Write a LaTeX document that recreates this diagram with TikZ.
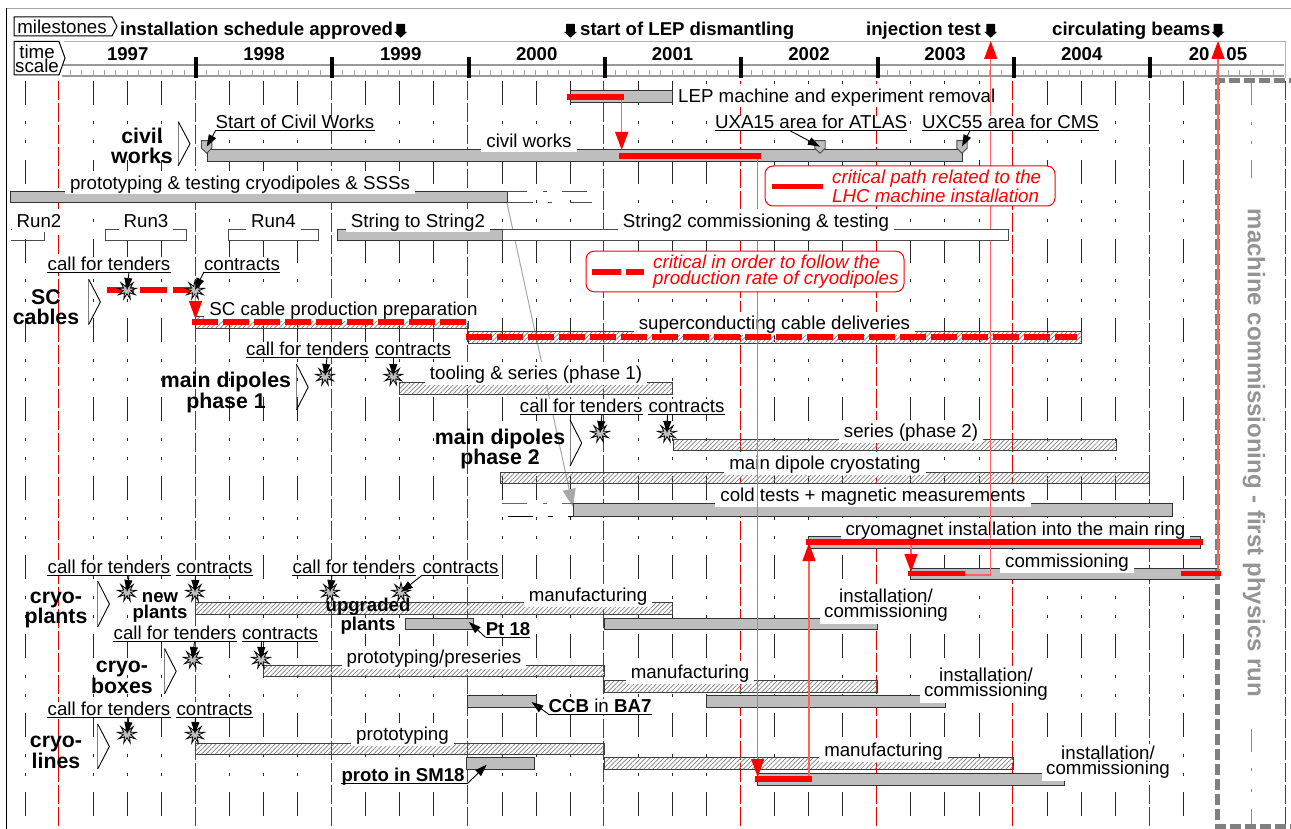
\documentclass[tikz,border=0pt]{standalone}
\usepackage{fontspec}
\setmainfont{Liberation Sans}
\usetikzlibrary{arrows.meta,patterns,patterns.meta,shapes.geometric}
\definecolor{bargray}{HTML}{BEBEBE}
\definecolor{pale}{HTML}{FF6060}
\definecolor{midgray}{HTML}{A8A8A8}
\definecolor{boxgray}{HTML}{808080}
\newcommand\tsz{\fontsize{18.7}{18.7}\selectfont}
\newcommand\bsz{\fontsize{18.6}{18.6}\selectfont\bfseries}
\newcommand\hsz{\fontsize{21.3}{19.5}\selectfont\bfseries}
\newcommand\isz{\fontsize{18.7}{13}\selectfont}
\tikzset{
  txt/.style={font=\tsz,inner sep=0pt},
  bold/.style={font=\bsz,inner sep=0pt},
  head/.style={font=\hsz,inner sep=0pt,align=center},
  lab/.style={font=\tsz,fill=white,inner xsep=5pt,inner ysep=3pt,text height=15pt,text depth=2pt},
  inst/.style={font=\isz,fill=white,inner xsep=4pt,inner ysep=2pt,align=center},
  ulab/.style={font=\tsz,fill=white,inner xsep=0pt,inner ysep=0pt,text height=13pt,text depth=1.5pt,anchor=south},
  ubold/.style={ulab,font=\bsz},
  uline/.style={draw=black,line width=0.9pt},
  gbarst/.style={draw=black!80,line width=1pt,fill=bargray,inner sep=0pt,outer sep=0pt},
  wbarst/.style={draw=black!70,line width=1pt,fill=white,inner sep=0pt,outer sep=0pt},
  hbarst/.style={draw=black!75,line width=1pt,inner sep=0pt,outer sep=0pt,pattern={Lines[angle=45,distance=3.2pt,line width=0.7pt]},pattern color=black!50},
  gridl/.style={draw=black!85,line width=0.9pt,dash pattern=on 24pt off 16.5pt on 3pt off 16pt on 3pt off 16.5pt},
  redgrid/.style={draw=red!90!black,line width=0.9pt,dash pattern=on 19pt off 3pt},
  chev/.style={draw=black,line width=0.9pt},
  lead/.style={draw=black,line width=0.9pt,-{Triangle[length=12pt,width=8pt]}},
  redlink/.style={draw=pale,line width=1.3pt,-{Triangle[length=18pt,width=13pt,color=red]}},
  redplain/.style={draw=pale,line width=1.3pt},
  thickred/.style={draw=red,line width=5.5pt},
  dashred/.style={thickred,dash pattern=on 26pt off 5pt},
  callout/.style={draw=red,fill=white,line width=1pt,rounded corners=8pt,inner sep=0pt},
  crit/.style={font=\fontsize{18.7}{16}\selectfont\itshape,text=red,inner sep=0pt,align=left,anchor=west},
  burst/.style={star,star points=9,star point ratio=2.5,draw=black,line width=0.8pt,fill=bargray,minimum size=19pt,inner sep=0pt},
  mrk/.style={draw=black!70,line width=0.9pt,fill=bargray},
  fat/.style={fill=black},
}
\newcommand\mybar[6]{\node[#1,minimum width={(#4-#3)*1pt},minimum height={(#6-#5)*1pt}] (#2) at ({(#3+#4)/2},{(#5+#6)/2}) {};}
\newcommand\chv[4]{\draw[chev,draw=black!50] (#1,#2) -- (#1,#4);\draw[chev] (#1,#2) -- ({#1+11.7},{(#2+#4)/2}) -- (#1,#4);}
\newcommand\fatdown[2]{\fill[fat] ({#1-4.3},24) -- ({#1+4.3},24) -- ({#1+4.3},32) -- ({#1+6.3},32) -- (#1,37.7) -- ({#1-6.3},32) -- ({#1-4.3},32) -- cycle; \coordinate (#2) at (#1,38);}
\newcommand\pent[3]{\filldraw[mrk] ({#1-5.2},#2) -- ({#1+5.2},#2) -- ({#1+5.2},{#2+7.5}) -- (#1,{#2+12.5}) -- ({#1-5.2},{#2+7.5}) -- cycle; \coordinate (#3) at (#1,{#2+6});}
\begin{document}
\begin{tikzpicture}[x=1pt,y=-1pt]
\useasboundingbox (0,0) rectangle (1291,829);
\fill[white] (0,0) rectangle (1291,829);
\clip (0,0) rectangle (1291,829);
% frame
\draw[black!35,line width=0.9pt] (6.3,8.3) -- (1291,8.3);
\draw[black,line width=1pt] (6.3,8.3) -- (6.3,829);
\draw[black!30,line width=1pt] (64,41.7) -- (1285.7,41.7) -- (1285.7,78);
% time scale
\draw[black!40,line width=1.2pt] (62,65) -- (1284,65);
\draw[black!40,line width=1.2pt] (62,76) -- (1284,76);
\foreach \k in {0,...,106} \draw[black!35,line width=0.9pt] ({70.5+\k*11.35},70.5) -- ({70.5+\k*11.35},76);
\foreach \x in {195.5,331.7,468.7,604.8,741,877.8,1014,1150} \fill[black] ({\x-2},57) rectangle ({\x+2},78);
\foreach \t/\x in {1997/127.7,1998/264,1999/400.7,2000/536.7,2001/672.5,2002/809,2003/945,2004/1081.7}
  \node[bold] (y\t) at (\x,54) {\t};
\node[bold] (y2005) at (1218,54) {20\hspace{17pt}05};
% grid
\foreach \k in {0,2,3,4,6,7,8,10,11,12,14,15,16,18,19,20,22,23,24,26,27,28,30,31,32,34}
  \draw[gridl] ({25+\k*34.07},81) -- ({25+\k*34.07},816);
\foreach \k in {1,5,9,13,17,21,25,29,33,37}
  \draw[redgrid] ({25+\k*34.07-0.3},81) -- ({25+\k*34.07-0.3},829);
\draw[black!45,line width=0.9pt] (1251.7,81) -- (1251.7,105) (1251.7,122) -- (1251.7,125) (1251.7,141) -- (1251.7,144) (1251.7,160) -- (1251.7,178);
\draw[black!45,line width=0.9pt] (1251.7,729) -- (1251.7,752) (1251.7,768) -- (1251.7,771) (1251.7,789) -- (1251.7,792) (1251.7,809) -- (1251.7,825);
% headers
\draw[black,line width=1pt] (14,17) -- (112,17) -- (117,26.5) -- (112,36) -- (14,36) -- cycle;
\node[txt] (mstxt) at (62,27) {milestones};
\draw[black,line width=1pt,fill=white] (14,41.5) -- (59,41.5) -- (65,58) -- (59,75) -- (14,75) -- cycle;
\node[txt,align=center,font=\fontsize{18.7}{14}\selectfont] (tstxt) at (37,59) {time\\scale};
\node[bold,anchor=west] (m1) at (120,30.5) {installation schedule approved};
\fatdown{400.7}{a1}
\fatdown{570.5}{a2}
\node[bold,anchor=west] (m2) at (580,30.5) {start of LEP dismantling};
\node[bold,anchor=west] (m3) at (866,30.5) {injection test};
\fatdown{990.7}{a3}
\node[bold,anchor=west] (m4) at (1052,30.5) {circulating beams};
\fatdown{1218}{a4}
% gray connector
\coordinate (gs) at (507,203);
\coordinate (ge) at (573,507);
\draw[draw=midgray,line width=1pt,-{Triangle[length=18pt,width=13pt,color=midgray]}] (gs) -- (ge);
% bars
\mybar{gbarst}{lep}{570}{672.7}{90.7}{102.3}
\node[lab,anchor=west] (leplab) at (673,96) {LEP machine and experiment removal};
\mybar{gbarst}{civ}{207}{962.3}{149.5}{161.5}
\node[lab] (civlab) at (529,141) {civil works};
\pent{206.7}{140.7}{mk1}
\pent{820}{140.7}{mk2}
\pent{962}{140.7}{mk3}
\mybar{gbarst}{proto}{10.5}{507}{192}{203}
\draw[black!70,line width=1pt] (507,192) -- (527,192) (543,192) -- (547,192) (562,192) -- (587,192);
\draw[black!70,line width=1pt] (507,203) -- (533,203) (548,203) -- (552,203) (570,203) -- (592,203);
\node[lab] (protolab) at (240,183) {prototyping \& testing cryodipoles \& SSSs};
% runs
\draw[black!70,line width=1pt] (11,230) -- (44.5,230) -- (44.5,241) -- (11,241);
\node[lab] (r2) at (39,221) {Run2};
\mybar{wbarst}{r3b}{105.5}{186}{230}{241}
\node[lab] (r3) at (146,221) {Run3};
\mybar{wbarst}{r4b}{228.5}{318}{230}{241}
\node[lab] (r4) at (273.5,221) {Run4};
\mybar{gbarst}{stb}{337.5}{502}{230}{241}
\node[lab] (st) at (418,221) {String to String2};
% SC
\mybar{hbarst}{scb}{195.3}{468}{316.5}{328}
\node[lab] (sclab) at (343.5,309) {SC cable production preparation};
\mybar{hbarst}{scd}{468}{1081.7}{331}{343}
\node[lab] (scdlab) at (774.5,323) {superconducting cable deliveries};
% dipoles
\mybar{hbarst}{d1}{399.5}{672.7}{382.5}{394}
\node[lab] (d1lab) at (536,373) {tooling \& series (phase 1)};
\mybar{hbarst}{d2}{673.3}{1116.7}{439.5}{450.5}
\node[lab] (d2lab) at (911,431) {series (phase 2)};
\mybar{hbarst}{cry}{500.5}{1149.5}{472}{483.3}
\node[lab] (crylab) at (825,463) {main dipole cryostating};
\mybar{gbarst}{cold}{573}{1172.7}{503.5}{516}
\draw[black!60,line width=1pt] (501.7,503.5) -- (527,503.5) (543,503.5) -- (547,503.5) (562,503.5) -- (573,503.5);
\draw[black,line width=1pt] (507.7,516) -- (533,516) (548,516) -- (553,516) (568,516) -- (573,516);
\node[lab] (coldlab) at (873,495) {cold tests + magnetic measurements};
\mybar{gbarst}{mag}{808}{1200}{536}{548}
\node[lab] (maglab) at (1015.5,529) {cryomagnet installation into the main ring};
\mybar{gbarst}{com}{910}{1217.7}{568}{579.7}
\node[lab] (comlab) at (1067,561) {commissioning};
% plants
\mybar{hbarst}{pm}{195.3}{672.7}{602.5}{614}
\node[lab] (pmlab) at (588,595) {manufacturing};
\mybar{gbarst}{pu}{405.7}{473.7}{618}{629.7}
\mybar{gbarst}{pi}{604.3}{877}{618}{629.7}
\node[inst] (pilab) at (886,605.5) {installation/\\commissioning};
% boxes
\mybar{hbarst}{bp}{263.7}{604.5}{665}{676.5}
\node[lab] (bplab) at (434,657) {prototyping/preseries};
\mybar{hbarst}{bm}{604.5}{877}{680.5}{692}
\node[lab] (bmlab) at (690,672) {manufacturing};
\mybar{gbarst}{bi}{706.7}{945.7}{695.5}{707}
\node[inst] (bilab) at (986,684.5) {installation/\\commissioning};
\mybar{gbarst}{ccb}{467.7}{536.7}{695.5}{707}
% lines
\mybar{hbarst}{lp}{195.3}{604.5}{743}{754}
\node[lab] (lplab) at (402.5,734) {prototyping};
\mybar{hbarst}{lm}{604.5}{1013.5}{757.5}{769}
\node[lab] (lmlab) at (883.5,750) {manufacturing};
\mybar{gbarst}{li}{757.7}{1064.7}{773}{785}
\node[inst] (lilab) at (1108,762.5) {installation/\\commissioning};
\mybar{gbarst}{lproto}{466}{534.7}{757.5}{769}
% commissioning box
\draw[boxgray,line width=5pt,dash pattern=on 11pt off 4pt] (1300,81) -- (1217.7,81) -- (1217.7,826) -- (1300,826);
\node[font=\fontsize{24}{24}\selectfont\bfseries,text=black!42,rotate=-90,inner sep=0pt] (comm) at (1254,453) {machine commissioning - first physics run};
% red links
\coordinate (r1a) at (621.7,100);
\coordinate (r1b) at (621.7,150);
\draw[redlink] (r1a) -- (r1b);
\coordinate (r2a) at (757.7,159);
\coordinate (r2b) at (757.7,777);
\draw[redlink] (r2a) -- (r2b);
\coordinate (r3a) at (809,776);
\coordinate (r3b) at (809,543);
\draw[redlink] (r3a) -- (r3b);
\coordinate (r4a) at (911,545);
\coordinate (r4b) at (911,572);
\draw[redlink] (r4a) -- (r4b);
\coordinate (r5a) at (965,575);
\coordinate (r5c) at (990.7,575);
\coordinate (r5b) at (990.7,41);
\draw[redlink] (r5a) -- (r5c) -- (r5b);
\coordinate (r6a) at (1218,573);
\coordinate (r6b) at (1218,41);
\draw[redlink] (r6a) -- (r6b);
\coordinate (tr3a) at (107,290);
\coordinate (tr3b) at (195,290);
\draw[thickred,dash pattern=on 27pt off 6pt] (tr3a) -- (tr3b);
\coordinate (r7a) at (195.5,293);
\coordinate (r7b) at (195.5,319);
% items on top of the red links
\mybar{wbarst}{st2}{502}{1008.3}{230}{241}
\node[lab] (st2lab) at (756,221) {String2 commissioning \& testing};
\node[ulab] (l1) at (295,130.7) {Start of Civil Works};
\draw[uline] (l1.south west) -- (l1.south east);
\node[ulab] (l2) at (811,130.7) {UXA15 area for ATLAS};
\draw[uline] (l2.south west) -- (l2.south east);
\node[ulab] (l3) at (1010.5,130.7) {UXC55 area for CMS};
\draw[uline] (l3.south west) -- (l3.south east);
\draw[lead] (l1.south west) -- (mk1);
\draw[lead] (790,130.7) -- (mk2);
\draw[lead] (970,130.7) -- (mk3);
% callouts
\node[callout,minimum width=290pt,minimum height=40pt] (co1) at (910,186) {};
\node[crit] (co1t) at (832,186.5) {critical path related to the\\LHC machine installation};
\node[callout,minimum width=318pt,minimum height=40.5pt] (co2) at (745,271.5) {};
\node[crit] (co2t) at (653,272) {critical in order to follow the\\production rate of cryodipoles};
\coordinate (lg1a) at (772,186.3);
\coordinate (lg1b) at (823,186.3);
\draw[thickred] (lg1a) -- (lg1b);
\coordinate (lg2a) at (592,272);
\coordinate (lg2b) at (644,272);
\draw[thickred,dash pattern=on 29pt off 5pt on 18pt off 5pt] (lg2a) -- (lg2b);
% section titles
\chv{178.3}{121.7}{0}{165.7}
\node[head] (h1) at (142,146) {civil\\works};
\chv{88.7}{279.3}{0}{324.5}
\node[head] (h2) at (46,307) {SC\\cables};
\chv{296.5}{364.3}{0}{410}
\node[head] (h3) at (226,392.5) {main dipoles\\phase 1};
\chv{570}{420}{0}{466}
\node[head] (h4) at (500,449) {main dipoles\\phase 2};
\chv{97.7}{581}{0}{627}
\node[head] (h5) at (56,610) {cryo-\\plants};
\chv{164.5}{648.5}{0}{694}
\node[head] (h6) at (122,677) {cryo-\\boxes};
\chv{97.7}{724}{0}{769}
\node[head] (h7) at (56,752) {cryo-\\lines};
\node[font=\fontsize{18.6}{16}\selectfont\bfseries,inner sep=0pt,align=center] (np) at (160,607.5) {new\\plants};
\node[font=\fontsize{18.6}{16}\selectfont\bfseries,inner sep=0pt,align=center] (up) at (368,616) {upgraded\\plants};
% call for tenders / contracts groups
\node[ulab] (t1) at (109,272) {call for tenders};
\draw[uline] (t1.south west) -- (t1.south east);
\node[ulab] (k1) at (242,272) {contracts};
\draw[uline] (k1.south west) -- (k1.south east);
\node[burst] (s1) at (127,290) {};
\node[burst] (s2) at (195,290) {};
\draw[lead] (129,272) -- (s1.center);
\draw[lead] (k1.south west) -- (s2.center);
\draw[redlink] (r7a) -- (r7b);
\node[ulab] (t2) at (307.5,357.3) {call for tenders};
\draw[uline] (t2.south west) -- (t2.south east);
\node[ulab] (k2) at (413,357.3) {contracts};
\draw[uline] (k2.south west) -- (k2.south east);
\node[burst] (s3) at (325,376) {};
\node[burst] (s4) at (393.3,376) {};
\draw[lead] (327,357.3) -- (s3.center);
\draw[lead] (393.3,357.3) -- (s4.center);
\node[ulab] (t3) at (581.3,414) {call for tenders};
\draw[uline] (t3.south west) -- (t3.south east);
\node[ulab] (k3) at (686.5,414) {contracts};
\draw[uline] (k3.south west) -- (k3.south east);
\node[burst] (s5) at (600,433) {};
\node[burst] (s6) at (667,433) {};
\draw[lead] (602,414) -- (s5.center);
\draw[lead] (667.5,414) -- (s6.center);
\node[ulab] (t4) at (109,575) {call for tenders};
\draw[uline] (t4.south west) -- (t4.south east);
\node[ulab] (k4) at (214.5,575) {contracts};
\draw[uline] (k4.south west) -- (k4.south east);
\node[ulab] (t5) at (354,575) {call for tenders};
\draw[uline] (t5.south west) -- (t5.south east);
\node[ulab] (k5) at (460.5,575) {contracts};
\draw[uline] (k5.south west) -- (k5.south east);
\node[burst] (s7) at (127,592) {};
\node[burst] (s8) at (195,592) {};
\node[burst] (s9) at (330,592) {};
\node[burst] (s10) at (401,592) {};
\draw[lead] (129,575) -- (s7.center);
\draw[lead] (195.5,575) -- (s8.center);
\draw[lead] (332,575) -- (s9.center);
\draw[lead] (k5.south west) -- (s10.center);
\node[ulab] (t6) at (175,641) {call for tenders};
\draw[uline] (t6.south west) -- (t6.south east);
\node[ulab] (k6) at (280,641) {contracts};
\draw[uline] (k6.south west) -- (k6.south east);
\node[burst] (s11) at (192.7,659) {};
\node[burst] (s12) at (261,659) {};
\draw[lead] (194.5,641) -- (s11.center);
\draw[lead] (261.5,641) -- (s12.center);
\node[ulab] (t7) at (109,717) {call for tenders};
\draw[uline] (t7.south west) -- (t7.south east);
\node[ulab] (k7) at (214.5,717) {contracts};
\draw[uline] (k7.south west) -- (k7.south east);
\node[burst] (s13) at (127,734) {};
\node[burst] (s14) at (195,734) {};
\draw[lead] (129,717) -- (s13.center);
\draw[lead] (195.5,717) -- (s14.center);
% small bold labels
\node[ubold] (pt) at (508,637.3) {Pt 18};
\draw[uline] (pt.south west) -- (pt.south east);
\coordinate (ptt) at (469,622);
\draw[lead] (pt.south west) -- (ptt);
\node[ulab] (cc) at (600,714) {\textbf{CCB} in \textbf{BA7}};
\draw[uline] (cc.south west) -- (cc.south east);
\coordinate (cct) at (531.5,702);
\draw[lead] (cc.south west) -- (cct);
\node[ubold] (pr) at (403,783.3) {proto in SM18};
\draw[uline] (pr.south west) -- (467.7,783.3);
\coordinate (prs) at (467.7,783.3);
\coordinate (prt) at (486.7,764.7);
\draw[lead] (prs) -- (prt);
% thick red
\coordinate (tr1a) at (567,97);
\coordinate (tr1b) at (624,97);
\draw[thickred] (tr1a) -- (tr1b);
\coordinate (tr2a) at (619,156);
\coordinate (tr2b) at (761,156);
\draw[thickred] (tr2a) -- (tr2b);
\coordinate (tr4a) at (192,322);
\coordinate (tr4b) at (467,322);
\draw[dashred] (tr4a) -- (tr4b);
\coordinate (tr5a) at (465.5,337);
\coordinate (tr5b) at (1077,337);
\draw[dashred] (tr5a) -- (tr5b);
\coordinate (tr6a) at (806,542);
\coordinate (tr6b) at (1202.7,542);
\draw[thickred] (tr6a) -- (tr6b);
\coordinate (tr7a) at (908,573.5);
\coordinate (tr7b) at (965,573.5);
\draw[thickred] (tr7a) -- (tr7b);
\coordinate (tr8a) at (1181,573.5);
\coordinate (tr8b) at (1221,573.5);
\draw[thickred] (tr8a) -- (tr8b);
\coordinate (tr9a) at (755,779);
\coordinate (tr9b) at (811.7,779);
\draw[thickred] (tr9a) -- (tr9b);
\end{tikzpicture}
\end{document}
